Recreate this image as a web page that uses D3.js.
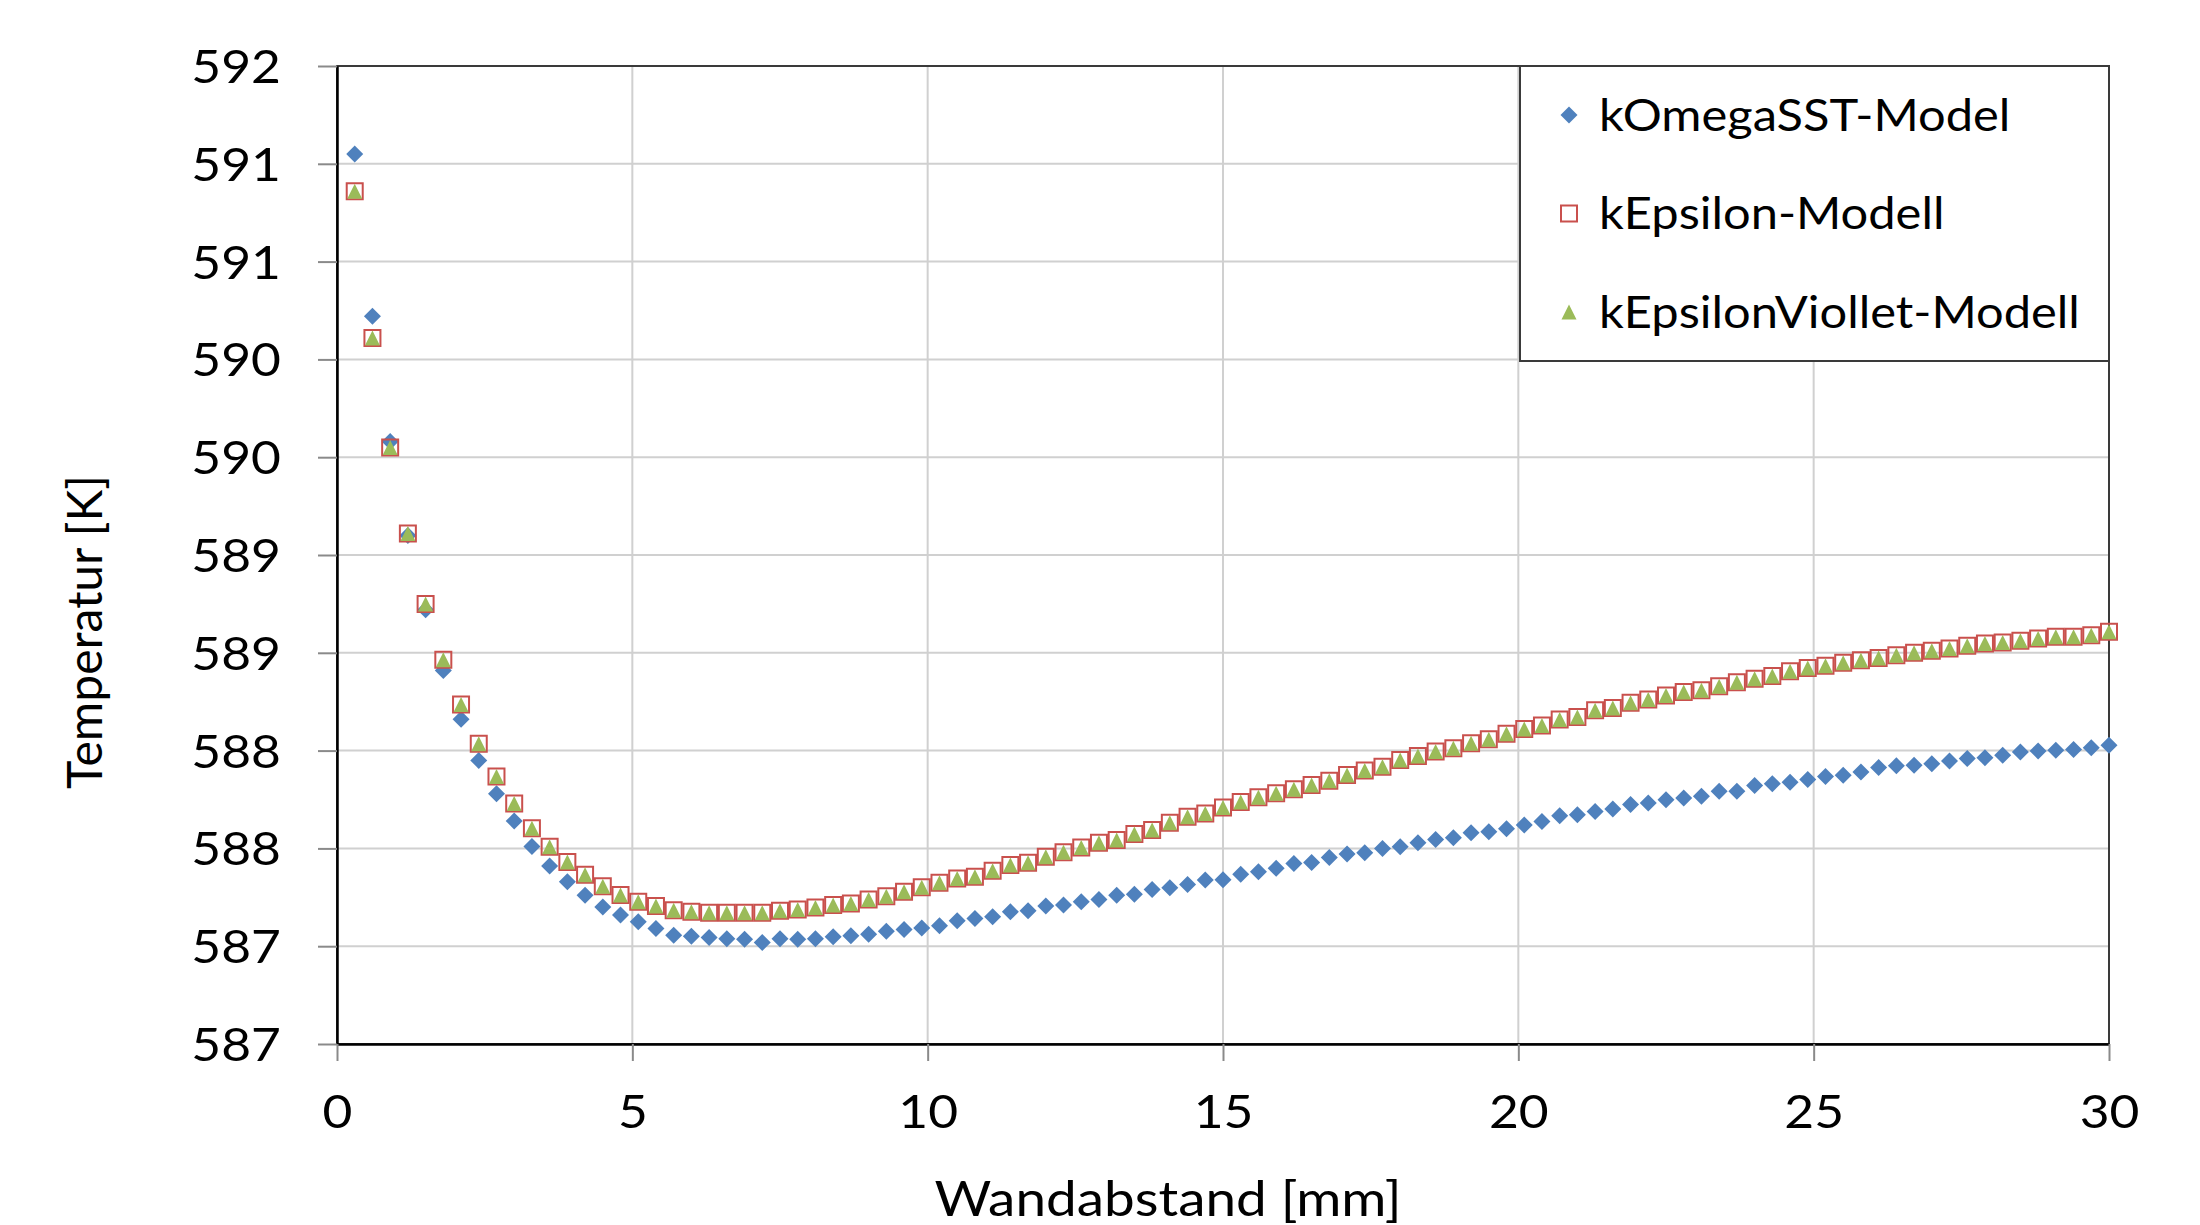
<!DOCTYPE html>
<html>
<head>
<meta charset="utf-8">
<script src="https://cdn.jsdelivr.net/npm/d3@7"></script>
<style>
  body { margin: 0; background: #fff; }
  text { font-family: Lato, "Open Sans", sans-serif; fill: #000; }
</style>
</head>
<body>
<svg id="chart" width="2200" height="1225"></svg>
<script>
// Wandabstand [mm]
var xValues = [0.3,0.6,0.9,1.2,1.5,1.8,2.1,2.4,2.7,3.0,3.3,3.6,3.9,4.2,4.5,4.8,5.1,5.4,5.7,6.0,
  6.3,6.6,6.9,7.2,7.5,7.8,8.1,8.4,8.7,9.0,9.3,9.6,9.9,10.2,10.5,10.8,11.1,11.4,11.7,12.0,
  12.3,12.6,12.9,13.2,13.5,13.8,14.1,14.4,14.7,15.0,15.3,15.6,15.9,16.2,16.5,16.8,17.1,17.4,17.7,18.0,
  18.3,18.6,18.9,19.2,19.5,19.8,20.1,20.4,20.7,21.0,21.3,21.6,21.9,22.2,22.5,22.8,23.1,23.4,23.7,24.0,
  24.3,24.6,24.9,25.2,25.5,25.8,26.1,26.4,26.7,27.0,27.3,27.6,27.9,28.2,28.5,28.8,29.1,29.4,29.7,30.0];

var kOmegaSST = [591.55,590.72,590.08,589.60,589.22,588.91,588.66,588.45,588.28,588.14,
  588.01,587.91,587.83,587.76,587.70,587.66,587.625,587.59,587.556,587.551,
  587.544,587.538,587.536,587.519,587.538,587.536,587.538,587.548,587.553,587.561,
  587.577,587.585,587.593,587.605,587.630,587.642,587.650,587.676,587.681,587.706,
  587.710,587.727,587.739,587.761,587.766,587.790,587.799,587.816,587.838,587.840,
  587.868,587.881,587.898,587.923,587.928,587.954,587.971,587.978,588.000,588.009,
  588.029,588.046,588.055,588.080,588.085,588.100,588.120,588.138,588.167,588.172,
  588.189,588.201,588.224,588.232,588.249,588.258,588.266,588.292,588.292,588.321,
  588.331,588.338,588.352,588.368,588.374,588.391,588.413,588.422,588.425,588.433,
  588.447,588.459,588.464,588.476,588.493,588.498,588.502,588.505,588.514,588.527];

var kEpsilon = [591.36,590.61,590.05,589.61,589.25,588.965,588.736,588.535,588.368,588.230,
  588.103,588.009,587.931,587.865,587.807,587.762,587.727,587.705,587.684,587.676,
  587.671,587.671,587.671,587.671,587.681,587.688,587.698,587.710,587.718,587.739,
  587.756,587.778,587.802,587.824,587.846,587.855,587.886,587.915,587.927,587.957,
  587.980,588.005,588.029,588.043,588.073,588.094,588.131,588.162,588.179,588.209,
  588.237,588.261,588.282,588.302,588.324,588.346,588.375,588.398,588.418,588.452,
  588.473,588.495,588.512,588.538,588.558,588.586,588.610,588.628,588.659,588.672,
  588.706,588.718,588.744,588.761,588.782,588.799,588.809,588.829,588.850,588.867,
  588.881,588.906,588.922,588.934,588.949,588.962,588.974,588.988,589.000,589.010,
  589.022,589.036,589.048,589.053,589.061,589.073,589.082,589.082,589.090,589.108];

var kEpsilonViollet = [591.36,590.61,590.05,589.61,589.25,588.965,588.736,588.535,588.368,588.230,
  588.103,588.009,587.931,587.865,587.807,587.762,587.727,587.705,587.684,587.676,
  587.671,587.671,587.671,587.671,587.681,587.688,587.698,587.710,587.718,587.739,
  587.756,587.778,587.802,587.824,587.846,587.855,587.886,587.915,587.927,587.957,
  587.980,588.005,588.029,588.043,588.073,588.094,588.131,588.162,588.179,588.209,
  588.237,588.261,588.282,588.302,588.324,588.346,588.375,588.398,588.418,588.452,
  588.473,588.495,588.512,588.538,588.558,588.586,588.610,588.628,588.659,588.672,
  588.706,588.718,588.744,588.761,588.782,588.799,588.809,588.829,588.850,588.867,
  588.881,588.906,588.922,588.934,588.949,588.962,588.974,588.988,589.000,589.010,
  589.022,589.036,589.048,589.053,589.061,589.073,589.082,589.082,589.090,589.108];

var seriesNames = ["kOmegaSST-Model", "kEpsilon-Modell", "kEpsilonViollet-Modell"];
var xTicks = [0, 5, 10, 15, 20, 25, 30];
var yTicks = [587, 587.5, 588, 588.5, 589, 589.5, 590, 590.5, 591, 591.5, 592];
var yTickLabels = ["587","587","588","588","589","589","590","590","591","591","592"];

var svg = d3.select("#chart");
var plotLeft = 337, plotRight = 2109, plotTop = 66, plotBottom = 1044;
var stretch = 1.12; // text in the picture is a bit wider than the font

var x = d3.scaleLinear().domain([0, 30]).range([plotLeft, plotRight]);
var y = d3.scaleLinear().domain([587, 592]).range([plotBottom, plotTop]);

// gridlines
svg.append("g").selectAll("line").data(yTicks).enter().append("line")
  .attr("x1", plotLeft).attr("x2", plotRight)
  .attr("y1", function(d) { return y(d); }).attr("y2", function(d) { return y(d); })
  .attr("stroke", "#d0d0d0").attr("stroke-width", 2);
svg.append("g").selectAll("line").data(xTicks).enter().append("line")
  .attr("y1", plotTop).attr("y2", plotBottom)
  .attr("x1", function(d) { return x(d); }).attr("x2", function(d) { return x(d); })
  .attr("stroke", "#d0d0d0").attr("stroke-width", 2);

// plot frame
svg.append("rect").attr("x", plotLeft).attr("y", plotTop)
  .attr("width", plotRight - plotLeft).attr("height", plotBottom - plotTop)
  .attr("fill", "none").attr("stroke", "#3a3a3a").attr("stroke-width", 2);

// axes
var yAxis = svg.append("g").attr("transform", "translate(" + plotLeft + ",0)")
  .call(d3.axisLeft(y).tickValues(yTicks).tickSize(19).tickSizeOuter(0)
    .tickFormat(function(d, i) { return yTickLabels[i]; }));
var xAxis = svg.append("g").attr("transform", "translate(0," + plotBottom + ")")
  .call(d3.axisBottom(x).tickValues(xTicks).tickSize(17).tickSizeOuter(0)
    .tickFormat(function(d) { return d; }));

[yAxis, xAxis].forEach(function(a) {
  a.select(".domain").attr("stroke", "#000").attr("stroke-width", 2.5);
  a.selectAll(".tick line").attr("stroke", "#8a8a8a").attr("stroke-width", 2);
  a.selectAll(".tick text").attr("font-size", 46).attr("font-family", "Lato").attr("fill", "#000");
});
yAxis.selectAll(".tick text").attr("x", -56 / stretch).attr("dy", "0.36em")
  .attr("transform", "scale(" + stretch + ",1)");
xAxis.selectAll(".tick text").attr("y", 51).attr("dy", "0.71em")
  .attr("transform", "scale(" + stretch + ",1)");

// axis titles
svg.append("text").attr("transform", "translate(1168,1216) scale(" + stretch + ",1)")
  .attr("text-anchor", "middle").attr("font-size", 49).text("Wandabstand [mm]");
svg.append("text").attr("transform", "translate(102,632) rotate(-90)")
  .attr("text-anchor", "middle").attr("font-size", 48).text("Temperatur [K]");

// marker shapes
var triangle = {
  draw: function(ctx, size) {
    var s = Math.sqrt(size);
    ctx.moveTo(0, -s / 2);
    ctx.lineTo(s / 2, s / 2);
    ctx.lineTo(-s / 2, s / 2);
    ctx.closePath();
  }
};
var diamond = {
  draw: function(ctx, size) {
    var s = Math.sqrt(size) / 2;
    ctx.moveTo(0, -s);
    ctx.lineTo(s, 0);
    ctx.lineTo(0, s);
    ctx.lineTo(-s, 0);
    ctx.closePath();
  }
};

var styles = [
  { path: d3.symbol(diamond, 17 * 17)(), fill: "#4F81BD", stroke: "none", sw: 0 },
  { path: d3.symbol(d3.symbolSquare, 16 * 16)(), fill: "none", stroke: "#C9504D", sw: 2 },
  { path: d3.symbol(triangle, 15 * 15)(), fill: "#9BBB59", stroke: "none", sw: 0 }
];
var allSeries = [kOmegaSST, kEpsilon, kEpsilonViollet];

allSeries.forEach(function(vals, k) {
  var st = styles[k];
  svg.append("g").selectAll("path").data(vals).enter().append("path")
    .attr("d", st.path)
    .attr("transform", function(d, i) { return "translate(" + x(xValues[i]) + "," + y(d) + ")"; })
    .attr("fill", st.fill).attr("stroke", st.stroke).attr("stroke-width", st.sw);
});

// legend
var legend = svg.append("g");
legend.append("rect").attr("x", 1520).attr("y", plotTop).attr("width", plotRight - 1520).attr("height", 295)
  .attr("fill", "#fff").attr("stroke", "#3a3a3a").attr("stroke-width", 2);
var rowY = d3.scalePoint().domain(seriesNames).range([115, 312]);
seriesNames.forEach(function(name, k) {
  var st = styles[k];
  legend.append("path").attr("d", st.path)
    .attr("transform", "translate(1569," + rowY(name) + ")")
    .attr("fill", st.fill).attr("stroke", st.stroke).attr("stroke-width", st.sw);
  legend.append("text")
    .attr("transform", "translate(1599," + rowY(name) + ") scale(" + stretch + ",1)")
    .attr("dy", "0.36em").attr("font-size", 43.6).text(name);
});
</script>
</body>
</html>
